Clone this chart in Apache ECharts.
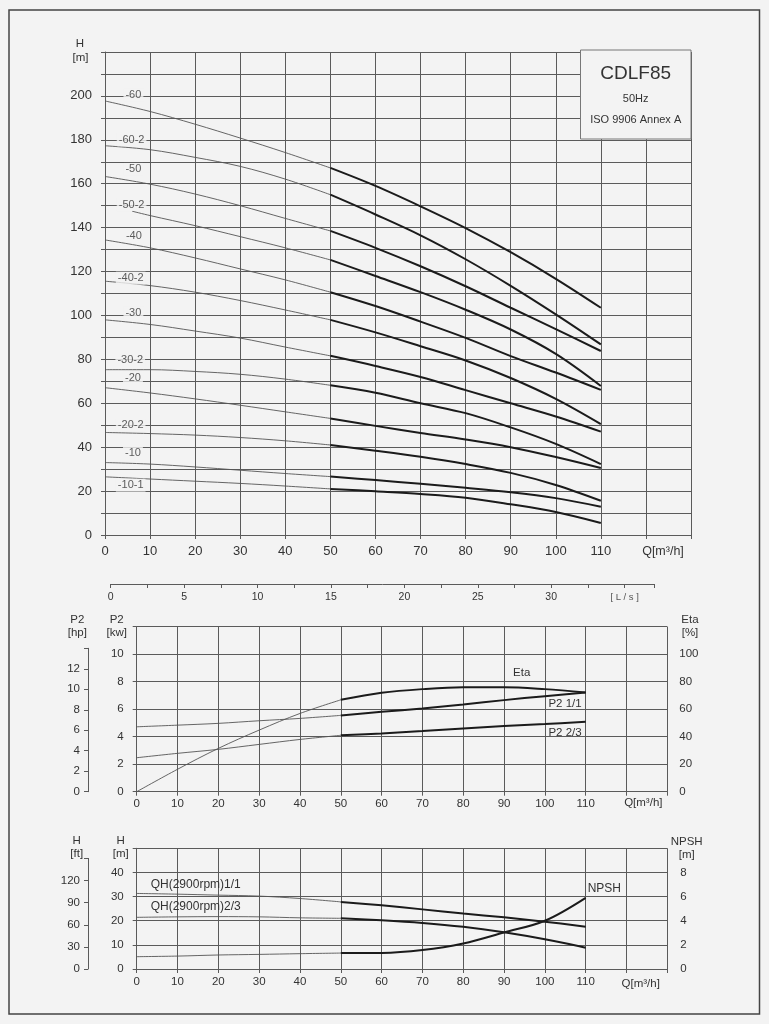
<!DOCTYPE html>
<html>
<head>
<meta charset="utf-8">
<script src="https://cdn.jsdelivr.net/npm/echarts/dist/echarts.min.js"></script>
<style>
  html, body { margin: 0; padding: 0; background: #f3f3f3; }
  #chart { width: 769px; height: 1024px; }
</style>
</head>
<body>
<div id="chart"></div>
<script>
// flow points, m3/h
const Q = [0, 10, 20, 30, 40, 50, 60, 70, 80, 90, 100, 110];
const Q50_2 = [6, 10, 20, 30, 40, 50, 60, 70, 80, 90, 100, 110];

// head curves H [m] per impeller configuration
const h60 = [197.7, 192.9, 187.1, 180.8, 174.2, 167.2, 159, 149.7, 139.8, 128.8, 116.7, 103.5];
const h60_2 = [177.3, 175.5, 172, 167.9, 162.1, 155, 146, 136.5, 125.6, 113.5, 100.5, 86.8];
const h50 = [163.3, 159.8, 155.3, 150, 144.2, 138.5, 130.8, 122.4, 113.3, 103.5, 93.8, 83.8];
const h50_2 = [147.5, 145.5, 140.9, 135.9, 130.8, 125.3, 118, 110.6, 102.6, 93.6, 82.5, 67.9];
const h40 = [134.4, 130.8, 126.2, 121.2, 116.2, 110.6, 104.3, 97.2, 89.8, 81.5, 74, 66.1];
const h40_2 = [115.6, 113.6, 110.6, 106.8, 102.5, 98, 92.3, 86, 79.5, 71.5, 62, 50.5];
const h30 = [98, 95.9, 92.9, 89.7, 85.6, 81.6, 77, 72, 66, 60, 54, 47.1];
const h30_2 = [75.3, 75.3, 74.5, 73.2, 71, 68.2, 64.8, 60, 55.5, 49, 41.5, 32.3];
const h20 = [67.1, 64.7, 62, 59.1, 56.1, 53.1, 49.7, 46.5, 43.5, 40, 35.5, 30.5];
const h20_2 = [46.7, 46.2, 45.5, 44.4, 42.9, 41, 38.4, 35.6, 32.3, 28.3, 22.8, 15.6];
const h10 = [33, 32.3, 31, 29.5, 28, 26.6, 25, 23.3, 21.5, 19.5, 16.8, 12.9];
const h10_1 = [26.5, 25.5, 24.5, 23.5, 22.3, 21, 19.9, 18.7, 17, 14, 10.5, 5.5];

const curveNames = ['-60', '-60-2', '-50', '-50-2', '-40', '-40-2', '-30', '-30-2', '-20', '-20-2', '-10', '-10-1'];
// where each curve name is written (Q, H)
const nameAt = [[6.3, 200.3], [5.9, 180], [6.3, 166.5], [5.9, 150.5], [6.4, 136.4], [5.7, 117],
  [6.3, 101], [5.6, 79.8], [6.2, 71.5], [5.7, 50.3], [6.2, 37.3], [5.7, 22.7]];

// power / efficiency
const eta = [0, 16.3, 31.5, 44.8, 56.9, 66.8, 71.9, 74.6, 76, 76, 74.6, 72.2];
const p2Full = [4.72, 4.84, 4.97, 5.16, 5.33, 5.55, 5.81, 6.05, 6.34, 6.66, 6.95, 7.22];
const p2TwoThirds = [2.47, 2.79, 3.08, 3.44, 3.8, 4.1, 4.24, 4.41, 4.6, 4.77, 4.92, 5.08];

// single stage head + NPSH
const qh1 = [31.3, 31, 30.6, 30.2, 29.2, 27.8, 26.4, 24.7, 23, 21.4, 19.6, 17.5];
const qh23 = [21.4, 21.6, 21.7, 21.6, 21.2, 21, 20.2, 19.1, 17.5, 15.2, 12.3, 8.8];
const npsh = [1.02, 1.07, 1.16, 1.21, 1.27, 1.32, 1.33, 1.57, 2.12, 3.03, 4.0, 5.9];

const BG = '#f3f3f3';
const AX = '#5a5a5a';
const TXT = '#333';
const FONT = 'Liberation Sans, Arial, sans-serif';

function seg(xs, ys, lo, hi) {
  const out = [];
  xs.forEach((x, i) => { if (x >= lo && x <= hi) out.push([x, ys[i]]); });
  return out;
}

// thin part below 50 m3/h, bold part above
function twoPart(xs, ys, xi, yi) {
  const base = { type: 'line', xAxisIndex: xi, yAxisIndex: yi, symbol: 'none', smooth: 0.35, silent: true };
  return [
    Object.assign({}, base, { data: seg(xs, ys, 0, 50), lineStyle: { color: '#555', width: 0.9 } }),
    Object.assign({}, base, { data: seg(xs, ys, 50, 110), lineStyle: { color: '#1b1b1b', width: 2 } })
  ];
}

function xAx(grid, size, margin) {
  return {
    type: 'value', gridIndex: grid, min: 0, max: 130, interval: 10,
    axisLine: { lineStyle: { color: AX, width: 1 } },
    axisTick: { length: 4, lineStyle: { color: AX } },
    splitLine: { lineStyle: { color: AX, width: 1 } },
    axisLabel: { color: TXT, fontSize: size, fontFamily: FONT, margin: margin, formatter: v => (v <= 110 ? v : '') }
  };
}

function yAx(grid, max, step, labelStep, labelMax, size, margin, extra) {
  return Object.assign({
    type: 'value', gridIndex: grid, min: 0, max: max, interval: step,
    axisLine: { show: true, lineStyle: { color: AX, width: 1 } },
    axisTick: { show: true, length: 4, lineStyle: { color: AX } },
    splitLine: { show: true, lineStyle: { color: AX, width: 1 } },
    axisLabel: {
      color: TXT, fontSize: size, fontFamily: FONT, margin: margin,
      formatter: v => (v <= labelMax && v % labelStep === 0 ? v : '')
    }
  }, extra || {});
}

const hidden = { show: false };

const series = [];
const tops = [h60, h60_2, h50, h50_2, h40, h40_2, h30, h30_2, h20, h20_2, h10, h10_1];
tops.forEach((h, i) => {
  series.push(...twoPart(i === 3 ? Q50_2 : Q, h, 0, 0));
});
series.push({
  type: 'scatter', xAxisIndex: 0, yAxisIndex: 0, symbolSize: 0, silent: true, z: 5,
  data: nameAt.map((p, i) => ({ value: p, name: curveNames[i] })),
  label: {
    show: true, position: 'inside', formatter: '{b}', color: TXT, fontSize: 11, fontFamily: FONT,
    backgroundColor: BG, padding: [1, 2]
  }
});
series.push(...twoPart(Q, eta, 2, 3));
series.push(...twoPart(Q, p2Full, 2, 2));
series.push(...twoPart(Q, p2TwoThirds, 2, 2));
series.push(...twoPart(Q, qh1, 3, 5));
series.push(...twoPart(Q, qh23, 3, 5));
series.push(...twoPart(Q, npsh, 3, 6));

function txt(x, y, s, size, align, extra) {
  return Object.assign({
    type: 'text', x: x, y: y, z: 101,
    style: { text: s, fill: TXT, font: size + 'px ' + FONT, align: align || 'center', verticalAlign: 'middle' }
  }, extra || {});
}

const chart = echarts.init(document.getElementById('chart'), null, { renderer: 'canvas' });
chart.setOption({
  animation: false,
  backgroundColor: BG,
  grid: [
    { left: 105, right: 78, top: 52, bottom: 489 },      // H-Q
    { left: 110.7, right: 115, top: 583, height: 1 },     // L/s scale
    { left: 136.7, right: 101.7, top: 626.7, bottom: 232.3 }, // P2 / Eta
    { left: 88, width: 1, top: 648.3, bottom: 232.3 },    // hp scale
    { left: 136.7, right: 101.7, top: 848.3, bottom: 55 },  // QH / NPSH
    { left: 88, width: 1, top: 858.4, bottom: 55 }        // ft scale
  ],
  xAxis: [
    xAx(0, 13, 10),
    {
      type: 'value', gridIndex: 1, min: 0, max: 37, interval: 2.5,
      axisLine: { lineStyle: { color: AX } },
      axisTick: { length: 4, lineStyle: { color: AX } },
      splitLine: hidden,
      axisLabel: {
        color: TXT, fontSize: 10.5, fontFamily: FONT, margin: 8,
        formatter: v => (v === 35 ? '{u|[ L / s ]}' : (v % 5 === 0 && v <= 30 ? v : '')),
        rich: { u: { fontSize: 9.5, color: '#555', fontFamily: FONT } }
      }
    },
    xAx(2, 11.5, 6),
    xAx(4, 11.5, 7),
    { type: 'value', gridIndex: 3, show: false },
    { type: 'value', gridIndex: 5, show: false }
  ],
  yAxis: [
    yAx(0, 220, 10, 20, 200, 13, 13),
    { type: 'value', gridIndex: 1, show: false },
    yAx(2, 12, 2, 2, 10, 11.5, 13),
    yAx(2, 120, 20, 20, 100, 11.5, 12, { position: 'right', axisLine: hidden, axisTick: hidden, splitLine: hidden }),
    yAx(3, 14, 2, 2, 12, 11.5, 8, { splitLine: hidden }),
    yAx(4, 50, 10, 10, 40, 11.5, 13),
    yAx(4, 10, 2, 2, 8, 11.5, 13, { position: 'right', axisLine: hidden, axisTick: hidden, splitLine: hidden }),
    yAx(5, 150, 30, 30, 120, 11.5, 8, { splitLine: hidden })
  ],
  series: series,
  graphic: [
    { type: 'rect', z: 100, shape: { x: 9, y: 10, width: 750.5, height: 1004 }, style: { fill: 'none', stroke: '#444', lineWidth: 1.5 } },
    { type: 'rect', z: 100, shape: { x: 580.5, y: 50, width: 110.5, height: 89 }, style: { fill: BG, stroke: '#777', lineWidth: 1 } },
    txt(635.7, 74, 'CDLF85', 19),
    txt(635.7, 98.5, '50Hz', 11),
    txt(635.7, 119.5, 'ISO 9906 Annex A', 11),
    // axis titles, top chart
    txt(80, 43.5, 'H', 11.5), txt(80.5, 57.5, '[m]', 11.5),
    txt(663, 552, 'Q[m³/h]', 12.5),
    // middle chart
    txt(77.3, 620, 'P2', 11.5), txt(77.3, 633.3, '[hp]', 11.5),
    txt(116.7, 620, 'P2', 11.5), txt(116.7, 633.3, '[kw]', 11.5),
    txt(690, 620, 'Eta', 11.5), txt(690, 632.7, '[%]', 11.5),
    txt(643.3, 802.7, 'Q[m³/h]', 11.5),
    txt(521.7, 673.3, 'Eta', 11.5),
    txt(565, 704, 'P2 1/1', 11.5),
    txt(565, 732.7, 'P2 2/3', 11.5),
    // bottom chart
    txt(76.7, 841, 'H', 11.5), txt(76.7, 854.3, '[ft]', 11.5),
    txt(120.7, 841, 'H', 11.5), txt(120.7, 854.3, '[m]', 11.5),
    txt(686.7, 841.7, 'NPSH', 11.5), txt(686.7, 855, '[m]', 11.5),
    txt(640.7, 984.3, 'Q[m³/h]', 11.5),
    txt(150.7, 885, 'QH(2900rpm)1/1', 12, 'left'),
    txt(150.7, 906.7, 'QH(2900rpm)2/3', 12, 'left'),
    txt(587.7, 888.3, 'NPSH', 12, 'left')
  ]
});
</script>
</body>
</html>
